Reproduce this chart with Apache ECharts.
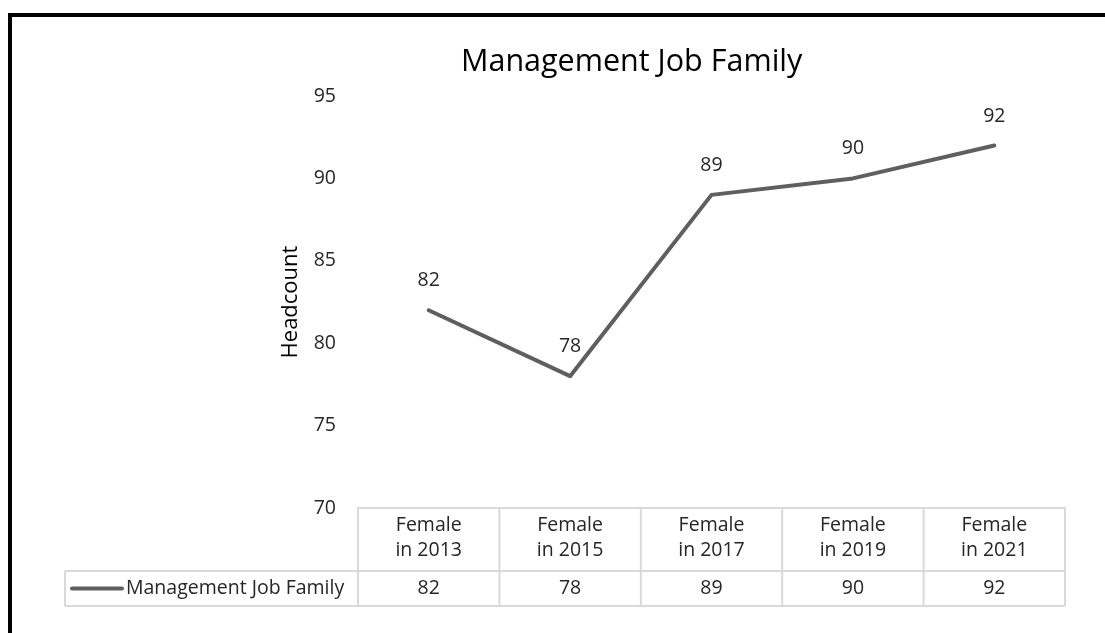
<!DOCTYPE html>
<html><head><meta charset="utf-8">
<script src="https://cdn.jsdelivr.net/npm/echarts@6/dist/echarts.min.js"></script>
<style>html,body{margin:0;padding:0;background:#fff}#c{width:1105px;height:633px}</style>
</head><body><div id="c"></div>
<script>
const categories = ['Female\nin 2013','Female\nin 2015','Female\nin 2017','Female\nin 2019','Female\nin 2021'];
const seriesName = 'Management Job Family';
const values = [82, 78, 89, 90, 92];
const yTicks = [70, 75, 80, 85, 90, 95];
const FONT = '"Open Sans"';
const TXT = '#262626';
const LINE = '#5f5f5f';
const GRID_C = '#d9d9d9';
const FS = 19.5;

const chart = echarts.init(document.getElementById('c'));
const option = {
  backgroundColor: '#fff',
  animation: false,
  textStyle: {fontFamily: FONT},
  title: {text: 'Management Job Family', left: 456, top: 42, textStyle: {fontFamily: FONT, fontSize: 30.5, fontWeight: 'normal', color: '#000'}},
  grid: {left: 358, right: 40, top: 96, bottom: 125},
  xAxis: {type: 'category', data: categories, boundaryGap: true,
    axisLine: {show: true, lineStyle: {color: GRID_C, width: 2}},
    axisTick: {show: false},
    axisLabel: {fontFamily: FONT, fontSize: FS, color: TXT, lineHeight: 25, margin: 5}
  },
  yAxis: {type: 'value', min: yTicks[0], max: yTicks[yTicks.length-1], interval: 5,
    name: 'Headcount', nameLocation: 'middle', nameGap: 56, nameRotate: 90,
    nameTextStyle: {fontFamily: FONT, fontSize: 22, color: '#000'},
    axisLine: {show: false}, axisTick: {show: false}, splitLine: {show: false},
    axisLabel: {fontFamily: FONT, fontSize: FS, color: TXT, margin: 22}
  },
  series: [{type: 'line', name: seriesName, data: values, symbol: 'circle', symbolSize: 3, showSymbol: true,
    itemStyle: {color: LINE},
    lineStyle: {color: LINE, width: 4, join: 'round', cap: 'round'},
    label: {show: true, position: 'top', distance: 18, fontFamily: FONT, fontSize: FS, color: TXT}
  }]
};
chart.setOption(option);

// Build data table from axis positions
const n = categories.length;
const x0 = chart.convertToPixel({xAxisIndex: 0}, 0);
const x1 = chart.convertToPixel({xAxisIndex: 0}, 1);
const bw = x1 - x0;
const left = x0 - bw/2, right = left + bw*n;
const yTop = chart.convertToPixel({yAxisIndex: 0}, yTicks[0]);
const yMid = yTop + 63, yBot = yMid + 35;
const legLeft = 65;
const ls = {stroke: GRID_C, lineWidth: 2};
const g = [];
function ln(a,b,c,d){g.push({type:'line', shape:{x1:a,y1:b,x2:c,y2:d}, style:ls, silent:true});}
for (let i=0;i<=n;i++){ const x = left + bw*i; ln(x, yTop, x, yBot); }
ln(legLeft, yMid, right, yMid);
ln(legLeft, yBot, right, yBot);
ln(legLeft, yMid, legLeft, yBot);
for (let i=0;i<n;i++){
  g.push({type:'text', x: left + bw*(i+0.5), y: (yMid+yBot)/2, style:{text: String(values[i]), font: FS+'px '+FONT, fill: TXT, textAlign:'center', textVerticalAlign:'middle'}});
}
g.push({type:'line', shape:{x1:72, y1:(yMid+yBot)/2, x2:122, y2:(yMid+yBot)/2}, style:{stroke: LINE, lineWidth: 4, lineCap: 'round'}});
g.push({type:'text', x: 126, y: (yMid+yBot)/2, style:{text: seriesName, font: FS+'px '+FONT, fill: TXT, textAlign:'left', textVerticalAlign:'middle'}});
g.push({type:'polyline', shape:{points:[[10,633],[10,15],[1105,15]]}, style:{stroke:'#000', lineWidth:4, fill:null}});
chart.setOption({graphic: g});
</script></body></html>
